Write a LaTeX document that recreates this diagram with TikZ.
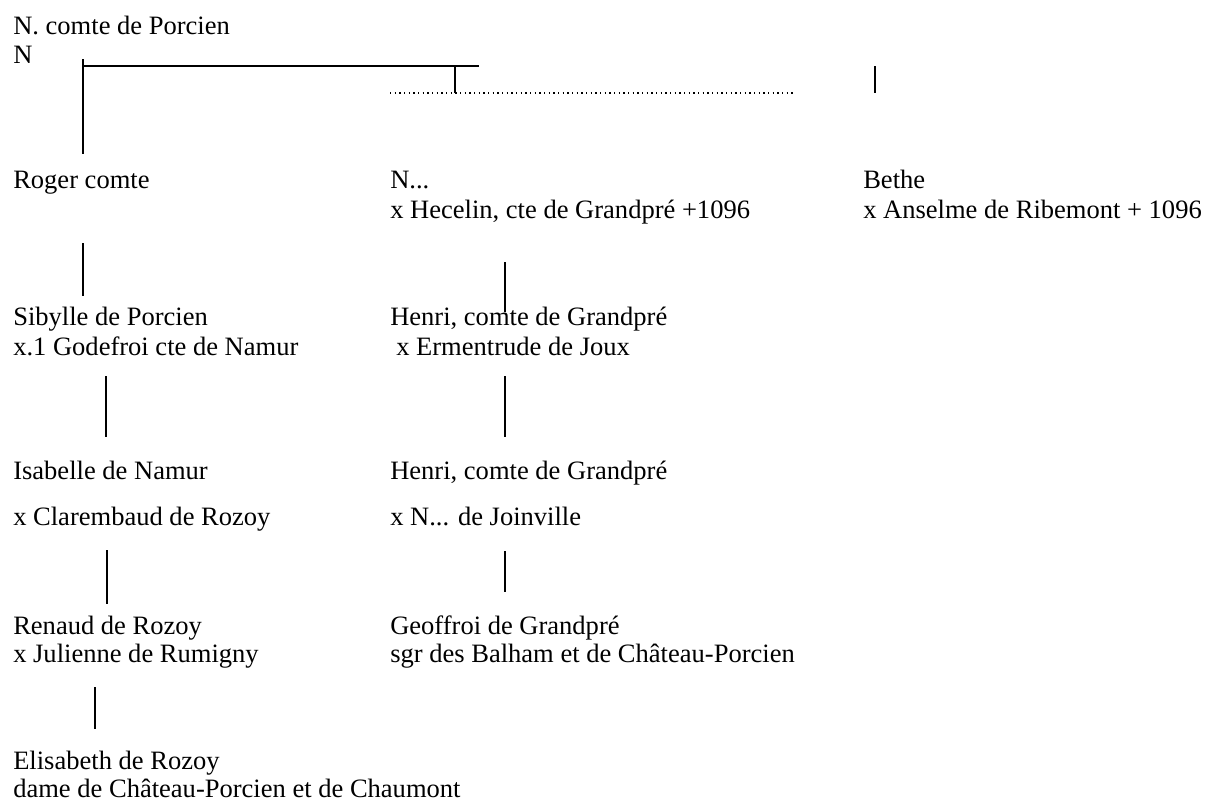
\documentclass[tikz,border=0pt]{standalone}
\usepackage{fontspec}
\setmainfont{Liberation Serif}

\begin{document}
\begin{tikzpicture}[x=0.75pt,y=-0.75pt,
    nom/.style={anchor=base west,inner sep=0pt,font=\fontsize{19.9}{22}\selectfont},
    trait/.style={line width=1.3pt},
    pointille/.style={line width=1.2pt,dash pattern=on 0.9pt off 2.6pt}]
    \useasboundingbox (0,0) rectangle (1205,803);
    % premiere generation
    \node[nom] (porcien) at (13,34) {N. comte de Porcien};
    \node[nom] (n) at (13,63) {N};
    \coordinate (v0) at (83,59);
    \coordinate (v1) at (83,154);
    \coordinate (h1) at (83,66);
    \coordinate (h2) at (479,66);
    \coordinate (p1) at (455,66);
    \coordinate (p2) at (455,93);
    \coordinate (d1) at (390,93);
    \coordinate (d2) at (794,93);
    \coordinate (b1) at (875,66);
    \coordinate (b2) at (875,93);
    \draw[trait] (v0) -- (v1);
    \draw[trait] (h1) -- (h2);
    \draw[trait] (p1) -- (p2);
    \draw[trait] (b1) -- (b2);
    \draw[pointille] (d1) -- (d2);
    % enfants
    \node[nom] (roger) at (13,188) {Roger comte};
    \node[nom] (nn) at (390,188) {N...};
    \node[nom] (hecelin) at (390,218) {x Hecelin, cte de Grandpré +1096};
    \node[nom] (bethe) at (863,188) {Bethe};
    \node[nom] (anselme) at (863,218) {x Anselme de Ribemont + 1096};
    \node[nom] (sibylle) at (13,325) {Sibylle de Porcien};
    \node[nom] (godefroi) at (13,355) {x.1 Godefroi cte de Namur};
    \node[nom] (henri) at (390,325) {Henri, comte de Grandpré};
    \node[nom] (ermentrude) at (396,355) {x Ermentrude de Joux};
    \node[nom] (isabelle) at (13,479) {Isabelle de Namur};
    \node[nom] (clarembaud) at (13,525) {x Clarembaud de Rozoy};
    \node[nom] (henrib) at (390,479) {Henri, comte de Grandpré};
    \node[nom] (joinville) at (390,525) {x N... de Joinville};
    \node[nom] (renaud) at (13,634) {Renaud de Rozoy};
    \node[nom] (julienne) at (13,662) {x Julienne de Rumigny};
    \node[nom] (geoffroi) at (390,634) {Geoffroi de Grandpré};
    \node[nom] (balham) at (390,662) {sgr des Balham et de Château-Porcien};
    \node[nom] (elisabeth) at (13,769) {Elisabeth de Rozoy};
    \node[nom] (dame) at (13,797) {dame de Château-Porcien et de Chaumont};
    % traits de filiation
    \foreach \n/\x/\ya/\yb in {r/83/243/296,g/505/262/312,s/106/376/437,e/505/376/437,
        c/107/550/604,j/505/551/592,u/95/687/729}{
        \coordinate (\n a) at (\x,\ya);
        \coordinate (\n b) at (\x,\yb);
        \draw[trait] (\n a) -- (\n b);
    }
\end{tikzpicture}
\end{document}
